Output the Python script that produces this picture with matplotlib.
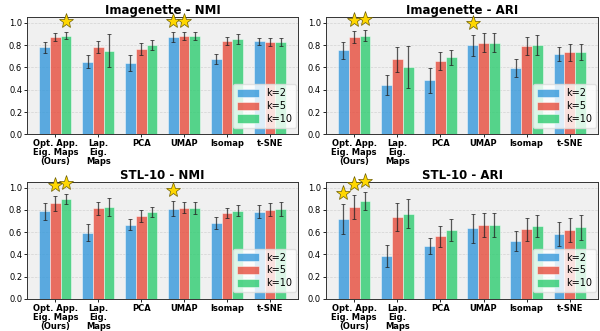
import numpy as np
import matplotlib
matplotlib.use("Agg")
import matplotlib.pyplot as plt

methods = ["Opt. App.\nEig. Maps\n(Ours)", "Lap.\nEig.\nMaps", "PCA", "UMAP", "Isomap", "t-SNE"]
k_labels = ["k=2", "k=5", "k=10"]
colors = ["#3498db", "#e74c3c", "#2ecc71"]

# Imagenette - NMI (rows: k=2, k=5, k=10)
img_nmi = [[0.78, 0.65, 0.64, 0.87, 0.675, 0.833],
           [0.87, 0.78, 0.765, 0.88, 0.836, 0.828],
           [0.884, 0.75, 0.797, 0.88, 0.854, 0.830]]
img_nmi_err = [[0.05, 0.057, 0.068, 0.045, 0.048, 0.035],
               [0.035, 0.055, 0.05, 0.038, 0.036, 0.035],
               [0.032, 0.15, 0.045, 0.038, 0.043, 0.035]]
img_nmi_stars = [(2, 0), (0, 3), (1, 3)]

# Imagenette - ARI
img_ari = [[0.752, 0.442, 0.487, 0.80, 0.594, 0.719],
           [0.872, 0.675, 0.657, 0.821, 0.791, 0.734],
           [0.884, 0.603, 0.69, 0.821, 0.80, 0.737]]
img_ari_err = [[0.073, 0.093, 0.112, 0.094, 0.084, 0.06],
               [0.05, 0.112, 0.08, 0.085, 0.08, 0.073],
               [0.048, 0.19, 0.07, 0.085, 0.09, 0.073]]
img_ari_stars = [(1, 0), (2, 0), (0, 3)]

# STL-10 - NMI
stl_nmi = [[0.788, 0.594, 0.666, 0.809, 0.684, 0.785],
           [0.86, 0.815, 0.743, 0.821, 0.773, 0.80],
           [0.899, 0.827, 0.785, 0.818, 0.791, 0.809]]
stl_nmi_err = [[0.075, 0.075, 0.05, 0.067, 0.052, 0.06],
               [0.067, 0.057, 0.054, 0.05, 0.048, 0.058],
               [0.045, 0.078, 0.045, 0.052, 0.05, 0.06]]
stl_nmi_stars = [(1, 0), (2, 0), (0, 3)]

# STL-10 - ARI
stl_ari = [[0.719, 0.382, 0.475, 0.633, 0.519, 0.585],
           [0.824, 0.734, 0.564, 0.663, 0.624, 0.618],
           [0.881, 0.767, 0.618, 0.66, 0.654, 0.642]]
stl_ari_err = [[0.137, 0.099, 0.075, 0.127, 0.093, 0.107],
               [0.109, 0.128, 0.094, 0.109, 0.107, 0.11],
               [0.08, 0.128, 0.097, 0.108, 0.10, 0.109]]
stl_ari_stars = [(0, 0), (1, 0), (2, 0)]

panels = [
    ("Imagenette - NMI", img_nmi, img_nmi_err, img_nmi_stars),
    ("Imagenette - ARI", img_ari, img_ari_err, img_ari_stars),
    ("STL-10 - NMI", stl_nmi, stl_nmi_err, stl_nmi_stars),
    ("STL-10 - ARI", stl_ari, stl_ari_err, stl_ari_stars),
]

fig = plt.figure(figsize=(6.0, 3.31), dpi=100)
rects = [
    [0.045, 0.594, 0.452, 0.354],
    [0.543, 0.594, 0.454, 0.354],
    [0.045, 0.097, 0.452, 0.353],
    [0.543, 0.097, 0.454, 0.353],
]

x = np.arange(len(methods))
w = 0.25
for (title, vals, errs, stars), r in zip(panels, rects):
    ax = fig.add_axes(r)
    ax.set_facecolor("#f0f0f0")
    for i in range(3):
        ax.bar(x + (i - 1) * w, vals[i], w, yerr=errs[i], color=colors[i], alpha=0.8,
               edgecolor="white", linewidth=0.4, label=k_labels[i],
               error_kw=dict(ecolor="#222222", elinewidth=0.9, capsize=1.6, capthick=0.7, alpha=0.75))
    for (i, g) in stars:
        ax.plot(x[g] + (i - 1) * w, vals[i][g] + errs[i][g] + 0.1, marker="*", markersize=11,
                color="#FFD700", markeredgecolor="#6b5c00", markeredgewidth=0.5, clip_on=False, zorder=5)
    ax.set_ylim(0, 1.05)
    ax.set_xlim(-0.66, 5.66)
    ax.set_xticks(x)
    ax.set_xticklabels(methods, fontsize=6, fontweight="bold", linespacing=1.0)
    ax.set_yticks([0, 0.2, 0.4, 0.6, 0.8, 1.0])
    ax.tick_params(axis="y", labelsize=6, length=2, pad=1.5, width=0.6)
    ax.tick_params(axis="x", length=2, pad=1.5, width=0.6)
    ax.yaxis.grid(True, linestyle="--", color="#cccccc", linewidth=0.5, alpha=0.8)
    ax.set_axisbelow(True)
    for s in ax.spines.values():
        s.set_color("#333333")
        s.set_linewidth(0.7)
    ax.set_title(title, fontsize=8.5, fontweight="bold", pad=2)
    ax.legend(loc="lower right", bbox_to_anchor=(1.0, 0.04), fontsize=7, handlelength=2.2,
              handleheight=0.9, borderaxespad=0.2, framealpha=0.8, edgecolor="#dddddd",
              labelspacing=0.3, handletextpad=0.8, fancybox=True)

fig.savefig("out.png", dpi=100)
